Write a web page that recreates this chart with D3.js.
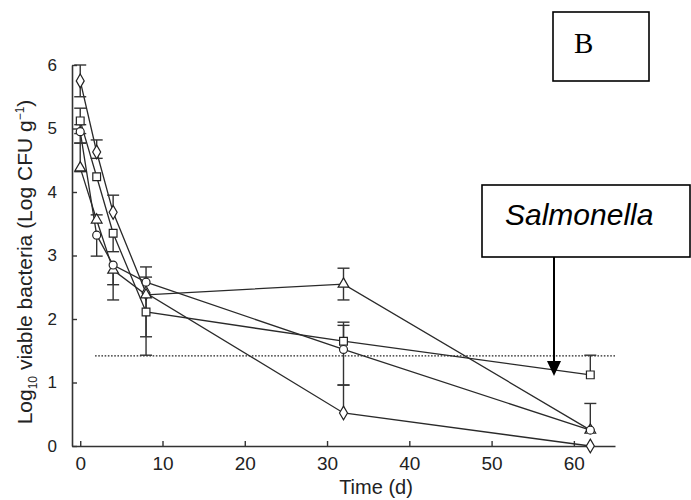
<!DOCTYPE html>
<html><head><meta charset="utf-8">
<script src="https://cdn.jsdelivr.net/npm/d3@7"></script>
<style>body{margin:0;background:#fff}svg{display:block}</style>
</head><body>
<svg id="c" width="691" height="500"></svg>
<script>
const times = [0, 2, 4, 8, 32, 62];
const seriesNames = ["diamond", "square", "triangle", "circle"];
const diamondVals = [5.75, 4.63, 3.68, 2.41, 0.52, 0.0];
const squareVals = [5.12, 4.24, 3.35, 2.11, 1.65, 1.12];
const triangleVals = [4.38, 3.56, 2.77, 2.38, 2.55, 0.25];
const circleVals = [4.95, 3.32, 2.85, 2.58, 1.52, 0.25];
const diamondErrUp = [0.25, 0.19, 0.27, 0.0, 0.44, 0.0];
const diamondErrLow = [0.25, 0.1, 0.0, 0.98, 0.0, 0.0];
const squareErrUp = [0.2, 0.0, 0.0, 0.55, 0.3, 0.31];
const squareErrLow = [0.2, 0.0, 0.29, 0.39, 0.0, 0.0];
const triangleErrUp = [0.39, 0.08, 0.0, 0.0, 0.25, 0.42];
const triangleErrLow = [0.06, 0.0, 0.47, 0.0, 0.25, 0.0];
const circleErrUp = [0.11, 0.0, 0.0, 0.24, 0.38, 0.0];
const circleErrLow = [0.18, 0.33, 0.31, 0.0, 0.56, 0.0];
const xTicks = [0, 10, 20, 30, 40, 50, 60];
const yTicks = [0, 1, 2, 3, 4, 5, 6];
const detectionLimit = 1.42;

const svg = d3.select("#c");
const x = d3.scaleLinear().domain([-1, 65]).range([72, 615]);
const y = d3.scaleLinear().domain([0, 6]).range([446, 65]);
const font = "'Liberation Sans', Arial, sans-serif";

// axes
const xa = svg.append("g").attr("transform", "translate(0,446)")
  .call(d3.axisBottom(x).tickValues(xTicks).tickFormat(d3.format("d")).tickSize(-5).tickSizeOuter(0).tickPadding(11));
const ya = svg.append("g").attr("transform", "translate(72,0)")
  .call(d3.axisLeft(y).tickValues(yTicks).tickFormat(d3.format("d")).tickSize(-5).tickSizeOuter(0).tickPadding(15));
[xa, ya].forEach(a => {
  a.select(".domain").attr("stroke", "#333").attr("stroke-width", 1.6);
  a.selectAll(".tick line").attr("stroke", "#333").attr("stroke-width", 1.4);
  a.selectAll("text").attr("font-family", font).attr("fill", "#222");
});
xa.selectAll("text").attr("font-size", 19);
ya.selectAll("text").attr("font-size", 17);

// axis titles
svg.append("text").attr("x", 376).attr("y", 494).attr("text-anchor", "middle")
  .attr("font-family", font).attr("font-size", 20).attr("fill", "#222").text("Time (d)");
const yt = svg.append("text").attr("transform", "translate(32,262) rotate(-90)")
  .attr("text-anchor", "middle").attr("font-family", font).attr("font-size", 21).attr("fill", "#222");
yt.append("tspan").text("Log");
yt.append("tspan").attr("font-size", 12).attr("dy", 5).text("10");
yt.append("tspan").attr("dy", -5).text(" viable bacteria (Log CFU g");
yt.append("tspan").attr("font-size", 12).attr("dy", -8).text("−1");
yt.append("tspan").attr("dy", 8).text(")");

// detection limit
svg.append("line").attr("x1", x(1.8)).attr("x2", x(65)).attr("y1", y(detectionLimit)).attr("y2", y(detectionLimit))
  .attr("stroke", "#222").attr("stroke-width", 1.3).attr("stroke-dasharray", "1.6,1.6");

const data = [
  {name: "diamond", vals: diamondVals, up: diamondErrUp, low: diamondErrLow, sym: d3.symbolDiamond, size: 55},
  {name: "square", vals: squareVals, up: squareErrUp, low: squareErrLow, sym: d3.symbolSquare, size: 60},
  {name: "triangle", vals: triangleVals, up: triangleErrUp, low: triangleErrLow, sym: d3.symbolTriangle, size: 50},
  {name: "circle", vals: circleVals, up: circleErrUp, low: circleErrLow, sym: d3.symbolCircle, size: 50}
];

const line = d3.line().x(d => x(d.t)).y(d => y(d.v));
data.forEach(s => {
  const pts = times.map((t, i) => ({t, v: s.vals[i], u: s.up[i], l: s.low[i]}));
  svg.append("path").datum(pts).attr("d", line).attr("fill", "none")
    .attr("stroke", "#2a2a2a").attr("stroke-width", 1.3);
  const eg = svg.append("g").attr("stroke", "#333").attr("stroke-width", 1.4);
  pts.forEach(p => {
    [[p.u, 1], [p.l, -1]].filter(e => e[0] > 0).forEach(([e, k]) => {
      const v = p.v + k * e;
      eg.append("line").attr("x1", x(p.t)).attr("x2", x(p.t)).attr("y1", y(p.v)).attr("y2", y(v));
      eg.append("line").attr("x1", x(p.t) - 6).attr("x2", x(p.t) + 6).attr("y1", y(v)).attr("y2", y(v));
    });
  });
});
data.forEach(s => {
  const pts = times.map((t, i) => ({t, v: s.vals[i]}));
  svg.append("g").selectAll("path").data(pts).join("path")
    .attr("transform", d => `translate(${x(d.t)},${y(d.v)})`)
    .attr("d", d3.symbol().type(s.sym).size(s.size))
    .attr("fill", "#fff").attr("stroke", "#222").attr("stroke-width", 1.2);
});

// annotation boxes
svg.append("rect").attr("x", 553).attr("y", 12).attr("width", 96).attr("height", 69)
  .attr("fill", "#fff").attr("stroke", "#000").attr("stroke-width", 1.6);
svg.append("text").attr("x", 574).attr("y", 53).attr("font-family", "'Liberation Serif', 'Times New Roman', serif")
  .attr("font-size", 29).attr("fill", "#000").text("B");

svg.append("rect").attr("x", 482).attr("y", 185).attr("width", 208).attr("height", 72)
  .attr("fill", "#fff").attr("stroke", "#000").attr("stroke-width", 1.6);
svg.append("text").attr("x", 505).attr("y", 225).attr("font-family", font).attr("font-style", "italic")
  .attr("font-size", 30).attr("fill", "#000").text("Salmonella");
svg.append("line").attr("x1", 554).attr("x2", 554).attr("y1", 257).attr("y2", 363)
  .attr("stroke", "#000").attr("stroke-width", 2);
svg.append("path").attr("d", "M547,361 L561,361 L554,376 Z").attr("fill", "#000");
</script>
</body></html>
